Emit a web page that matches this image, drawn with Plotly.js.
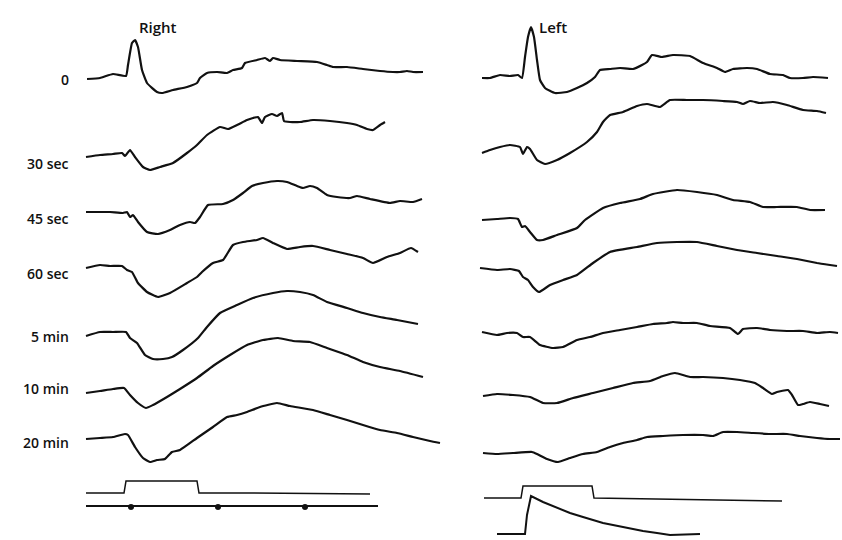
<!DOCTYPE html>
<html>
<head>
<meta charset="utf-8">
<script src="https://cdn.plot.ly/plotly-3.0.1.min.js"></script>
<style>html,body{margin:0;padding:0;background:#fff;}#chart{width:842px;height:540px;}</style>
</head>
<body>
<div id="chart"></div>
<script>
// Row labels and panel titles
const rowLabels = ["0", "30 sec", "45 sec", "60 sec", "5 min", "10 min", "20 min"];
const rowLabelY = [79, 163, 218, 273, 336, 388, 442];
const panelTitles = ["Right", "Left"];
const panelTitleX = [158, 553];

// ---- Right side traces (x, y) ----
const xR0 = [87,100,113,126,128,132,135,138,142,147,157,162,173,187,197,200,207,217,227,233,242,245,257,265,270,273,280,297,317,327,333,347,363,380,393,400,407,413,423];
const yR0 = [79,78,74,76,65,43,40,47,70,83,92,93,90,87,83,78,73,72,73,70,68,63,60,58,61,58,60,61,62,65,67,67,69,71,72,72,71,72,72];

const xR1 = [86,100,113,122,125,130,135,143,150,160,173,187,197,207,220,228,237,247,253,258,262,265,272,277,282,284,290,300,313,330,347,357,367,373,380,385];
const yR1 = [157,155,154,153,156,150,157,167,170,167,163,153,145,135,127,129,125,120,118,117,123,117,114,116,113,121,122,122,120,121,123,125,129,130,125,122];

const xR2 = [86,100,110,123,127,130,133,138,147,158,170,180,190,195,200,208,223,233,243,252,263,277,287,297,303,310,317,327,337,350,357,370,390,400,413,422];
const yR2 = [212,212,212,213,212,217,215,222,232,234,230,225,222,223,217,205,204,200,193,186,183,181,182,186,188,186,188,195,197,198,196,199,203,201,202,199];

const xR3 = [86,100,110,122,127,132,138,147,158,170,187,197,202,213,223,233,243,257,263,273,287,300,313,330,347,363,373,387,400,411,418];
const yR3 = [268,265,266,266,270,272,283,292,297,293,283,277,272,263,260,245,242,240,238,243,249,247,246,250,254,258,263,257,253,248,252];

const xR4 = [86,100,113,126,130,137,145,153,163,172,183,198,207,220,237,253,273,287,300,313,327,347,363,380,397,418];
const yR4 = [336,332,332,332,338,343,355,359,359,357,350,338,327,313,305,298,293,291,292,295,302,308,313,317,320,324];

const xR5 = [86,100,113,124,130,138,146,153,167,180,197,213,230,247,263,278,293,310,327,347,363,380,400,423];
const yR5 = [393,391,389,388,395,403,408,405,397,389,378,366,355,345,340,338,341,342,348,355,362,367,371,377];

const xR6 = [86,100,113,125,128,135,143,150,157,165,172,180,197,213,227,237,247,260,277,290,313,330,347,363,380,397,413,430,440];
const yR6 = [439,438,437,434,435,447,458,462,460,459,452,450,438,427,417,415,412,407,403,406,410,415,420,425,430,433,437,441,443];

// Right stimulus marker and time line
const xRstim = [86,124,126,197,199,247,370];
const yRstim = [493,493,481,481,493,493,494];
const xRtime = [86,378];
const yRtime = [506,506];
const xRdots = [131,218,305];
const yRdots = [507,507,507];

// ---- Left side traces ----
const xL0 = [482,490,500,510,518,522,525,528,531,534,537,540,545,555,567,577,587,595,600,610,620,633,642,647,652,662,673,690,703,717,725,733,747,757,770,783,790,803,813,828];
const yL0 = [78,78,75,76,75,78,57,37,27,37,60,80,88,93,92,88,83,77,70,69,68,69,65,62,55,57,55,56,63,68,72,69,68,69,74,75,78,78,77,78];

const xL1 = [482,490,500,510,520,523,527,530,537,545,557,570,587,597,603,610,623,637,647,660,670,687,703,723,737,743,750,760,773,787,803,817,826];
const yL1 = [153,150,147,145,147,154,147,149,160,164,160,153,142,132,122,115,112,106,104,107,100,100,100,101,102,104,101,103,102,105,110,111,113];

const xL2 = [482,497,510,518,522,525,530,537,543,557,577,585,603,620,640,653,677,697,717,733,750,763,777,797,810,825];
const yL2 = [220,219,218,219,227,226,232,240,240,235,228,220,208,203,199,194,190,192,195,200,202,207,207,207,210,210];

const xL3 = [480,497,510,519,523,528,533,539,550,563,577,593,610,637,657,677,697,717,737,757,777,797,817,830,837];
const yL3 = [268,270,269,271,277,280,287,292,285,280,275,263,252,247,243,242,242,246,250,253,256,259,263,265,266];

const xL4 = [482,497,507,517,523,530,540,553,563,577,590,603,620,637,653,667,673,683,697,710,730,738,743,757,770,787,803,817,830,838];
const yL4 = [332,335,333,333,337,337,345,348,347,340,337,333,330,327,324,323,322,323,323,326,328,334,329,328,330,331,331,333,332,333];

const xL5 = [483,497,513,530,543,557,573,593,613,633,650,663,675,690,703,723,740,755,763,772,777,788,792,798,803,810,820,829];
const yL5 = [396,394,395,397,403,403,398,393,388,383,381,376,373,377,377,378,380,383,388,394,392,390,395,405,404,402,404,406];

const xL6 = [483,497,513,532,537,547,558,570,583,597,610,623,637,647,663,683,703,713,723,737,753,770,787,800,817,830,840];
const yL6 = [453,454,453,452,454,459,462,458,454,452,447,443,440,437,436,435,435,436,432,432,433,434,434,436,438,439,439];

// Left stimulus marker and response
const xLstim = [484,521,523,592,594,670,782];
const yLstim = [498,498,486,486,498,499,501];
const xLresp = [497,525,527,531,543,557,570,583,603,623,643,657,670,700];
const yLresp = [534,534,515,496,502,508,513,517,523,527,531,533,535,534];

const traceSets = [
  [xR0,yR0],[xR1,yR1],[xR2,yR2],[xR3,yR3],[xR4,yR4],[xR5,yR5],[xR6,yR6],
  [xL0,yL0],[xL1,yL1],[xL2,yL2],[xL3,yL3],[xL4,yL4],[xL5,yL5],[xL6,yL6]
];

const data = [];
traceSets.forEach(function(p){
  data.push({x:p[0], y:p[1], type:'scatter', mode:'lines',
    line:{color:'#111', width:2.2, shape:'spline', smoothing:0.4}, hoverinfo:'skip'});
});
data.push({x:xRstim, y:yRstim, type:'scatter', mode:'lines', line:{color:'#111', width:1.5}, hoverinfo:'skip'});
data.push({x:xRtime, y:yRtime, type:'scatter', mode:'lines', line:{color:'#111', width:2}, hoverinfo:'skip'});
data.push({x:xRdots, y:yRdots, type:'scatter', mode:'markers', marker:{color:'#111', size:6, symbol:'circle'}, hoverinfo:'skip'});
data.push({x:xLstim, y:yLstim, type:'scatter', mode:'lines', line:{color:'#111', width:1.5}, hoverinfo:'skip'});
data.push({x:xLresp, y:yLresp, type:'scatter', mode:'lines', line:{color:'#111', width:2}, hoverinfo:'skip'});

const annotations = [];
rowLabels.forEach(function(t,i){
  annotations.push({x:71, y:rowLabelY[i], xref:'x', yref:'y', text:t, showarrow:false,
    xanchor:'right', yanchor:'middle', font:{family:'Open Sans, sans-serif', size:14, color:'#111', weight:600}});
});
panelTitles.forEach(function(t,i){
  annotations.push({x:panelTitleX[i], y:27, xref:'x', yref:'y', text:t, showarrow:false,
    xanchor:'center', yanchor:'middle', font:{family:'Open Sans, sans-serif', size:15, color:'#111', weight:600}});
});

const layout = {
  width:842, height:540,
  margin:{l:0, r:0, t:0, b:0},
  paper_bgcolor:'#fff', plot_bgcolor:'#fff',
  showlegend:false,
  xaxis:{range:[0,842], visible:false, fixedrange:true},
  yaxis:{range:[540,0], visible:false, fixedrange:true},
  annotations:annotations
};

Plotly.newPlot('chart', data, layout, {displayModeBar:false, staticPlot:true});
</script>
</body>
</html>
